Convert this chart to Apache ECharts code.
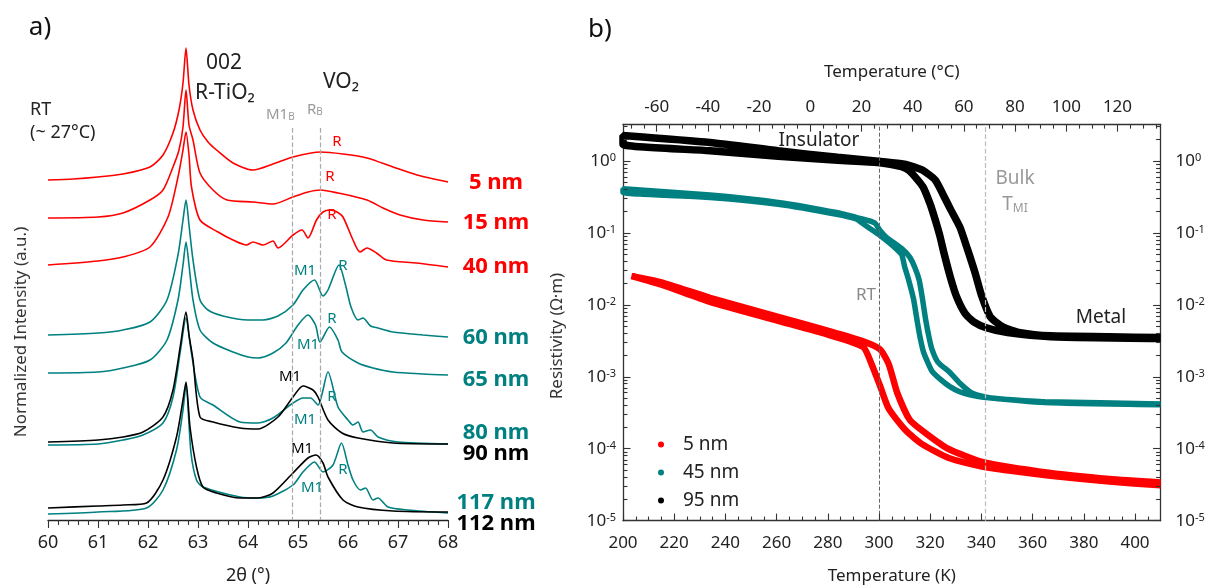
<!DOCTYPE html>
<html><head><meta charset="utf-8">
<script src="https://cdn.jsdelivr.net/npm/echarts@6/dist/echarts.min.js"></script>
<style>html,body{margin:0;padding:0;background:#fff}#c{width:1207px;height:588px}</style>
</head><body><div id="c"></div>
<script>
// ---------- Panel a) XRD scans: [2theta (deg), stacked normalized intensity (a.u.)] ----------
const xrd5nm = [[60,340],[60.5,341],[61,343],[61.5,346],[62.04,353],[62.3,365],[62.5,387],[62.62,410],[62.7,437],[62.76,472],[62.82,435],[62.9,410],[63.04,390],[63.2,378],[63.37,370],[63.7,357],[64.1,350],[64.5,356],[64.9,363],[65.45,368],[65.9,366],[66.38,362],[66.9,353],[67.38,345],[68,338]];
const xrd15nm = [[60,302],[61,303],[61.5,307],[62.04,320],[62.3,330],[62.5,353],[62.62,370],[62.7,393],[62.76,430],[62.82,395],[62.9,380],[63.04,347],[63.3,330],[63.58,320],[64.1,318],[64.5,316],[64.9,323],[65.2,328],[65.45,330],[65.8,327],[66.38,320],[66.7,312],[67.04,305],[67.5,300],[68,298]];
const xrd40nm = [[60,255],[61,259],[61.5,263],[62.04,273],[62.4,303],[62.6,343],[62.7,370],[62.76,388],[62.82,365],[62.87,333],[63.04,300],[63.4,288],[63.7,280],[63.97,275],[64.1,278],[64.3,275],[64.5,279],[64.6,272],[64.9,285],[65.08,290],[65.2,282],[65.37,300],[65.5,308],[65.64,310],[65.78,308],[65.9,303],[66.1,280],[66.24,268],[66.38,272],[66.57,267],[66.77,260],[67.37,257],[68,253]];
const xrd60nm = [[60,185],[61,187],[61.5,190],[62.04,198],[62.38,220],[62.6,265],[62.7,300],[62.76,320],[62.82,295],[62.9,260],[63.04,220],[63.2,210],[63.5,204],[64,200],[64.3,200],[64.6,204],[64.9,215],[65.1,230],[65.33,240],[65.5,224],[65.6,230],[65.82,255],[65.95,235],[66.06,213],[66.2,200],[66.3,202],[66.45,194],[66.6,192],[66.9,188],[67.5,185],[68,183]];
const xrd65nm = [[60,147],[61,148],[61.5,152],[62.04,160],[62.38,180],[62.6,220],[62.7,255],[62.76,278],[62.82,255],[62.9,220],[63.04,190],[63.3,177],[63.7,168],[64,163],[64.2,162],[64.5,167],[64.76,177],[65,195],[65.2,205],[65.35,195],[65.44,178],[65.63,193],[65.8,180],[65.88,168],[66.2,157],[66.5,152],[66.9,148],[67.5,146],[68,145]];
const xrd80nm = [[60,75],[61,76],[61.5,80],[61.9,85],[62.3,97],[62.5,123],[62.65,170],[62.76,202],[62.86,170],[63.04,123],[63.3,115],[63.84,98],[64.2,97],[64.5,102],[64.9,117],[65.1,122],[65.25,122],[65.4,115],[65.6,148],[65.8,113],[66,100],[66.1,95],[66.2,98],[66.3,88],[66.45,90],[66.6,83],[67,78],[68,76]];
const xrd90nm = [[60,78],[61,80],[61.5,83],[61.9,88],[62.3,103],[62.5,130],[62.65,175],[62.76,208],[62.82,185],[62.9,160],[63.04,103],[63.3,98],[63.84,92],[64.2,91],[64.6,103],[64.9,123],[65.1,134],[65.3,130],[65.4,123],[65.6,100],[65.88,87],[66.2,82],[66.9,77],[68,76]];
const xrd117nm = [[60,6],[61,8],[61.97,12],[62.3,30],[62.57,70],[62.7,110],[62.76,135],[62.86,67],[62.97,40],[63.1,33],[63.84,23],[64.2,22],[64.5,24],[64.9,35],[65.1,48],[65.33,58],[65.5,48],[65.7,55],[65.87,77],[66,55],[66.1,40],[66.25,30],[66.35,32],[66.5,20],[66.6,22],[66.8,13],[67.2,10],[68,7]];
const xrd112nm = [[60,12],[61,14],[61.5,15],[61.97,17],[62.3,40],[62.57,83],[62.7,120],[62.76,138],[62.84,93],[62.97,53],[63.1,33],[63.37,27],[63.84,22],[64.2,22],[64.5,27],[64.9,47],[65.2,62],[65.36,65],[65.5,57],[65.6,43],[65.9,20],[66.2,13],[66.9,9],[68,8]];
const bulkRefLines = [64.89, 65.45];   // M1_B, R_B
const xrdTicks = [60, 61, 62, 63, 64, 65, 66, 67, 68];

// ---------- Panel b) resistivity: [T (K), rho (Ohm m)] ----------
const rho5Cool = [[410,3.1e-5],[390,3.5e-5],[367,4.2e-5],[350,5.0e-5],[340.7,5.6e-5],[327,7.5e-5],[317,1.15e-4],[310.4,1.8e-4],[303.8,3.6e-4],[300.4,7.5e-4],[297.1,1.5e-3],[293.8,2.6e-3],[280.6,3.8e-3],[260.6,6.0e-3],[234,1.1e-2],[215,1.9e-2],[203.3,2.5e-2]];
const rho5Heat = [[215,2.05e-2],[234,1.25e-2],[260.6,6.8e-3],[280.6,4.3e-3],[293.8,3.1e-3],[300.4,2.4e-3],[303.8,1.5e-3],[307.1,6.0e-4],[312.1,2.5e-4],[318.7,1.6e-4],[327,1.0e-4],[340.7,6.5e-5],[367,4.6e-5],[390,3.8e-5],[410,3.4e-5]];
const rho45Cool = [[410,0.00041],[364.8,0.00044],[340.7,0.00052],[335.5,0.00056],[331.5,0.00062],[327.7,0.00073],[324,0.00092],[320.7,0.0012],[319,0.0016],[317.4,0.0022],[316,0.0036],[314.9,0.006],[313.5,0.012],[311.6,0.022],[310,0.034],[308.8,0.05],[304,0.073],[300.4,0.092],[296,0.118],[293,0.14],[291.3,0.155],[284,0.18],[260.6,0.25],[234,0.31],[200,0.365]];
const rho45Heat = [[200,0.41],[234,0.335],[260.6,0.265],[284,0.19],[291.3,0.163],[296,0.148],[298.5,0.136],[300.4,0.108],[303,0.086],[308.8,0.061],[312,0.046],[314,0.033],[315.7,0.022],[317,0.012],[318.2,0.0063],[319.5,0.0036],[320.7,0.0024],[323,0.0016],[327.7,0.00115],[331.5,0.00082],[335.5,0.00062],[338.2,0.00056],[343,0.00051],[348.2,0.00049],[364.8,0.00045],[410,0.00042]];
const rho95Cool = [[410,0.0034],[367,0.0036],[350.2,0.0041],[341.9,0.0048],[337,0.0058],[333.6,0.0076],[330.3,0.013],[327.9,0.024],[325.4,0.052],[323.8,0.09],[322,0.15],[320,0.25],[317.1,0.44],[312,0.72],[308.8,0.83],[299.7,0.95],[283.8,1.02],[260.6,1.16],[234,1.38],[200,1.7]];
const rho95Heat = [[200,2.25],[234,1.8],[260.6,1.38],[283.8,1.12],[299.7,0.99],[308.8,0.91],[312,0.86],[317.1,0.74],[322,0.54],[325.4,0.32],[328,0.21],[331.6,0.12],[334.5,0.06],[337.5,0.028],[340.2,0.013],[343.5,0.0068],[348.5,0.0049],[355.2,0.0041],[367,0.0037],[390,0.0036],[410,0.0035]];
const kelvinTicks = [200,220,240,260,280,300,320,340,360,380,400];
const celsiusTicks = [-60,-40,-20,0,20,40,60,80,100,120];
const decadeTicks = [1e-5,1e-4,1e-3,1e-2,1e-1,1];
const roomTempK = 300;
const bulkTmiK = 341.5;

const RED = '#ff0000', TEAL = '#008080', BLACK = '#000000';
const FONT = '"Noto Sans", "DejaVu Sans", sans-serif';
const AX = '#333';
const T_MIN = 200, T_MAX = 410, RHO_MIN = 1e-5, RHO_MAX = 3.2, C0 = 273.15;
const E_MIN = -5, E_MAX = Math.log10(RHO_MAX);   // exponent frame used only for tick marks

// ---- tick positions (decoration) ----
const xrdMinor = []; for (let i = 0; i <= 40; i++) if (i % 5) xrdMinor.push(Number((60 + i * 0.2).toFixed(1)));
const kelvinMinor = []; for (let t = 205; t < 410; t += 5) if (t % 20) kelvinMinor.push(t);
const celsiusMinor = []; for (let t = -70; t <= 135; t += 5) if (t % 20) celsiusMinor.push(t);
const logMinor = []; for (let e = -5; e <= 0; e++) for (let m = 2; m <= 9; m++) { const v = m * Math.pow(10, e); if (v < RHO_MAX) logMinor.push(v); }
const xrdSegs = [];
xrdTicks.forEach(v => xrdSegs.push([{ coord: [v, 0] }, { coord: [v, -8] }]));
xrdMinor.forEach(v => xrdSegs.push([{ coord: [v, 0] }, { coord: [v, -5] }]));
// right panel ticks in a (T, log10 rho) frame laid exactly over panel b
const KPX = 1 / 2.56, EPX = 1 / 72;
const lo = E_MIN + 0.002, hi = E_MAX - 0.002, xl = T_MIN + 0.2, xr = T_MAX - 0.2;
const bSegs = [];
const bs = (a, b) => bSegs.push([{ coord: a }, { coord: b }]);
kelvinTicks.forEach(t => { const x = Math.min(Math.max(t, xl), xr); bs([x, lo], [x, lo + 7 * EPX]); });
kelvinMinor.forEach(t => bs([t, lo], [t, lo + 4 * EPX]));
celsiusTicks.forEach(c => bs([c + C0, hi], [c + C0, hi - 7 * EPX]));
celsiusMinor.forEach(c => { const t = c + C0; if (t > xl && t < xr) bs([t, hi], [t, hi - 4 * EPX]); });
decadeTicks.forEach(r => { const e = Math.min(Math.max(Math.log10(r), lo), hi); bs([xl, e], [xl + 7 * KPX, e]); bs([xr, e], [xr - 7 * KPX, e]); });
logMinor.forEach(r => { const e = Math.log10(r); bs([xl, e], [xl + 4 * KPX, e]); bs([xr, e], [xr - 4 * KPX, e]); });

const supFmt = v => '{b|10}{s|' + Math.round(Math.log10(v)) + '}';
const supRich = { b: { fontSize: 17, color: '#222', fontFamily: FONT }, s: { fontSize: 11, color: '#222', verticalAlign: 'top', fontFamily: FONT, padding: [0, 0, 6, 0] } };

const chart = echarts.init(document.getElementById('c'));
const xrdLine = (name, data, color, z) => ({ name, type: 'line', xAxisIndex: 0, yAxisIndex: 0, data, showSymbol: false, smooth: 0.25, lineStyle: { color, width: 1.6 }, itemStyle: { color }, z, silent: true });
const rhoLine = (name, cool, heat, color, width) => ({ name, type: 'line', xAxisIndex: 1, yAxisIndex: 1, data: cool.concat(heat), showSymbol: false, smooth: 0.2, lineStyle: { color, width }, itemStyle: { color }, silent: true });
const tickMarks = data => ({ silent: true, symbol: 'none', label: { show: false }, animation: false, lineStyle: { color: AX, type: 'solid', width: 1.1 }, emphasis: { disabled: true }, data });

const lblTxt = (text, x, y, color, size) => ({ type: 'text', x, y, style: { text, fill: color, font: size + 'px ' + FONT, align: 'center', verticalAlign: 'middle' } });
const leftTxt = (text, x, y, color, size) => ({ type: 'text', x, y, style: { text, fill: color, font: size + 'px ' + FONT, align: 'left', verticalAlign: 'middle' } });
const sampleTxt = (text, y, color) => ({ type: 'text', x: 496, y, style: { text, fill: color, font: 'bold 22px ' + FONT, align: 'center', verticalAlign: 'middle' } });

const noTick = { show: false };
const option = {
  animation: false,
  backgroundColor: '#fff',
  grid: [
    { left: 48, top: 40, width: 400, height: 490, containLabel: false, outerBoundsMode: 'none' },
    { left: 623, top: 124.5, width: 537.6, height: 396.2, containLabel: false, outerBoundsMode: 'none' },
    { left: 623, top: 124.5, width: 537.6, height: 396.2, containLabel: false, outerBoundsMode: 'none' }
  ],
  xAxis: [
    { gridIndex: 0, type: 'value', min: 60, max: 68, interval: 1, position: 'bottom', offset: -10,
      axisLine: { onZero: false, lineStyle: { color: '#222', width: 1.4 } },
      axisTick: noTick,
      axisLabel: { fontSize: 18, color: '#222', margin: 14, fontFamily: FONT },
      splitLine: { show: false },
      name: '2θ (°)', nameLocation: 'middle', nameGap: 47, nameTextStyle: { fontSize: 18, color: '#222', fontFamily: FONT } },
    { gridIndex: 1, type: 'value', min: T_MIN, max: T_MAX, position: 'bottom',
      axisLine: { onZero: false, lineStyle: { color: AX, width: 1.3 } },
      axisTick: noTick,
      axisLabel: { customValues: kelvinTicks, fontSize: 17, color: '#222', margin: 14, fontFamily: FONT },
      splitLine: { show: false },
      name: 'Temperature (K)', nameLocation: 'middle', nameGap: 47, nameTextStyle: { fontSize: 17, color: '#222', fontFamily: FONT } },
    { gridIndex: 1, type: 'value', min: T_MIN - C0, max: T_MAX - C0, position: 'top',
      axisLine: { onZero: false, lineStyle: { color: AX, width: 1.3 } },
      axisTick: noTick,
      axisLabel: { customValues: celsiusTicks, fontSize: 17, color: '#222', margin: 9, fontFamily: FONT },
      splitLine: { show: false },
      name: 'Temperature (°C)', nameLocation: 'middle', nameGap: 44, nameTextStyle: { fontSize: 17, color: '#222', fontFamily: FONT } },
    { gridIndex: 2, type: 'value', min: T_MIN, max: T_MAX, show: false }
  ],
  yAxis: [
    { gridIndex: 0, type: 'value', min: -10, max: 480, show: false },
    { gridIndex: 1, type: 'log', min: RHO_MIN, max: RHO_MAX, position: 'left',
      axisLine: { show: true, onZero: false, lineStyle: { color: AX, width: 1.3 } },
      axisTick: noTick,
      axisLabel: { customValues: decadeTicks, formatter: supFmt, rich: supRich, margin: 7 },
      splitLine: { show: false } },
    { gridIndex: 1, type: 'log', min: RHO_MIN, max: RHO_MAX, position: 'right',
      axisLine: { show: true, onZero: false, lineStyle: { color: AX, width: 1.3 } },
      axisTick: noTick,
      axisLabel: { customValues: decadeTicks, formatter: supFmt, rich: supRich, margin: 15 },
      splitLine: { show: false } },
    { gridIndex: 2, type: 'value', min: E_MIN, max: E_MAX, show: false }
  ],
  legend: {
    orient: 'vertical', left: 653, top: 430, itemWidth: 10, itemHeight: 6, itemGap: 9,
    textStyle: { fontSize: 19, color: '#222', fontFamily: FONT, padding: [0, 0, 0, 12], lineHeight: 19 },
    data: [{ name: '5 nm', icon: 'circle' }, { name: '45 nm', icon: 'circle' }, { name: '95 nm', icon: 'circle' }]
  },
  series: [
    Object.assign(xrdLine('xrd5', xrd5nm, RED, 2), {
      markLine: { silent: true, symbol: 'none', label: { show: false },
        lineStyle: { color: '#aaa', type: 'dashed', width: 1.2 },
        data: bulkRefLines.map(v => [{ coord: [v, 392] }, { coord: [v, 0] }]) } }),
    xrdLine('xrd15', xrd15nm, RED, 2),
    xrdLine('xrd40', xrd40nm, RED, 2),
    xrdLine('xrd60', xrd60nm, TEAL, 2),
    xrdLine('xrd65', xrd65nm, TEAL, 2),
    xrdLine('xrd80', xrd80nm, TEAL, 2),
    xrdLine('xrd90', xrd90nm, BLACK, 3),
    xrdLine('xrd117', xrd117nm, TEAL, 2),
    Object.assign(xrdLine('xrd112', xrd112nm, BLACK, 3), { markLine: tickMarks(xrdSegs) }),
    Object.assign(rhoLine('5 nm', rho5Cool, rho5Heat, RED, 6.5), {
      markLine: { silent: true, symbol: 'none', label: { show: false },
        data: [
          { xAxis: roomTempK, lineStyle: { color: '#666', type: 'dashed', width: 1 } },
          { xAxis: bulkTmiK, lineStyle: { color: '#bbb', type: 'dashed', width: 1.2 } }
        ] } }),
    rhoLine('45 nm', rho45Cool, rho45Heat, TEAL, 5.5),
    rhoLine('95 nm', rho95Cool, rho95Heat, BLACK, 7.5),
    { name: 'frameB', type: 'line', xAxisIndex: 3, yAxisIndex: 3, data: [[T_MIN, E_MIN], [T_MAX, E_MIN]], showSymbol: false, silent: true,
      lineStyle: { color: AX, width: 0.5, opacity: 0 }, z: 6, markLine: tickMarks(bSegs) }
  ],
  graphic: [
    lblTxt('a)', 40, 28, '#111', 26),
    lblTxt('b)', 600, 30, '#111', 26),
    lblTxt('002', 224, 63, '#222', 21),
    lblTxt('R-TiO₂', 225, 93, '#222', 21),
    lblTxt('VO₂', 341, 82, '#222', 21),
    leftTxt('RT', 30, 110, '#222', 18),
    leftTxt('(~ 27°C)', 30, 133, '#222', 18),
    { type: 'text', x: 266, y: 115, style: { text: '{a|M1}{b|B}', fill: '#999', align: 'left', verticalAlign: 'middle',
        rich: { a: { fontSize: 15, fill: '#999', fontFamily: FONT }, b: { fontSize: 10, fill: '#999', fontFamily: FONT, verticalAlign: 'bottom' } } } },
    { type: 'text', x: 307, y: 110, style: { text: '{a|R}{b|B}', fill: '#999', align: 'left', verticalAlign: 'middle',
        rich: { a: { fontSize: 15, fill: '#999', fontFamily: FONT }, b: { fontSize: 10, fill: '#999', fontFamily: FONT, verticalAlign: 'bottom' } } } },
    { type: 'text', x: 21, y: 332, rotation: Math.PI / 2, style: { text: 'Normalized Intensity (a.u.)', fill: '#333', font: '17px ' + FONT, align: 'center', verticalAlign: 'middle' } },
    // peak labels
    lblTxt('R', 337, 142, RED, 15), lblTxt('R', 330, 177, RED, 15), lblTxt('R', 332, 215, RED, 15),
    lblTxt('M1', 305, 271, TEAL, 15), lblTxt('R', 343, 266, TEAL, 15),
    lblTxt('R', 332, 319, TEAL, 15), lblTxt('M1', 308, 345, TEAL, 15),
    lblTxt('M1', 290, 377, BLACK, 15), lblTxt('R', 332, 397, TEAL, 15), lblTxt('M1', 305, 420, TEAL, 15),
    lblTxt('M1', 302, 449, BLACK, 15), lblTxt('R', 343, 470, TEAL, 15), lblTxt('M1', 312, 488, TEAL, 15),
    // sample labels
    sampleTxt('5 nm', 183, RED), sampleTxt('15 nm', 223, RED), sampleTxt('40 nm', 267, RED),
    sampleTxt('60 nm', 338, TEAL), sampleTxt('65 nm', 380, TEAL), sampleTxt('80 nm', 433, TEAL),
    sampleTxt('90 nm', 454, BLACK), sampleTxt('117 nm', 503, TEAL), sampleTxt('112 nm', 524, BLACK),
    // panel b annotations
    { type: 'text', x: 557, y: 336, rotation: Math.PI / 2, style: { text: 'Resistivity (Ω·m)', fill: '#333', font: '17px ' + FONT, align: 'center', verticalAlign: 'middle' } },
    lblTxt('Insulator', 819, 141, '#222', 19),
    lblTxt('Metal', 1101, 318, '#222', 19),
    lblTxt('RT', 866, 295, '#888', 17),
    lblTxt('Bulk', 1015, 179, '#999', 19),
    { type: 'text', x: 1015, y: 205, style: { text: '{a|T}{b|MI}', align: 'center', verticalAlign: 'middle',
        rich: { a: { fontSize: 19, fill: '#999', fontFamily: FONT }, b: { fontSize: 12, fill: '#999', fontFamily: FONT, verticalAlign: 'bottom' } } } }
  ]
};
chart.setOption(option);
</script></body></html>
